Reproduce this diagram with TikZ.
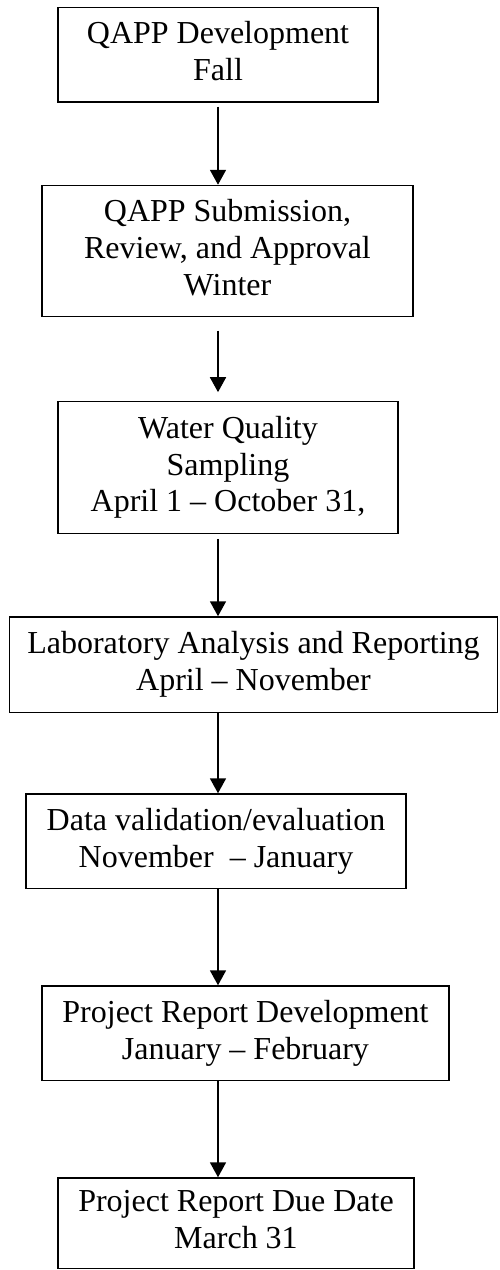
\documentclass[tikz,border=0pt]{standalone}
\usepackage{fontspec}
\setmainfont{Liberation Serif}
\usetikzlibrary{arrows.meta}

\tikzset{
    stage/.style={draw=black, line width=0.6pt, align=center, inner sep=0pt,
        font=\fontsize{12}{13.8}\selectfont,
        execute at begin node=\rule{0pt}{10.6pt},
        execute at end node=\rule[-2.7pt]{0pt}{2.7pt}},
    flow/.style={draw=black, line width=0.6pt, -{Triangle[width=6pt, length=5.6pt]}}
}

\begin{document}
\begin{tikzpicture}[x=0.375pt, y=-0.375pt]
    % Page frame
    \useasboundingbox (0, 0) rectangle (499, 1270);
    % Line that the arrows run along
    \coordinate (spine) at (218, 0);

    % Stages
    \node[stage, minimum width=120pt, minimum height=35.4pt] (qappdev) at (218, 54.75)
        {QAPP Development\\Fall};
    \node[stage, minimum width=139.1pt, minimum height=49.1pt] (qappsub) at (227.5, 251)
        {QAPP Submission,\\Review, and Approval\\Winter};
    \node[stage, minimum width=127.5pt, minimum height=49.5pt] (sampling) at (228, 467.5)
        {Water Quality\\Sampling\\April 1 – October 31,};
    \node[stage, minimum width=183pt, minimum height=35.8pt] (labwork) at (253.5, 664.75)
        {Laboratory Analysis and Reporting\\April – November};
    \node[stage, minimum width=142.5pt, minimum height=35.4pt] (validation) at (216, 841.25)
        {Data validation/evaluation\\November~ – January};
    \node[stage, minimum width=152.6pt, minimum height=35.4pt] (reportdev) at (245.5, 1033.25)
        {Project Report Development\\January – February};
    \node[stage, minimum width=133.5pt, minimum height=33.9pt] (reportdue) at (236, 1223.25)
        {Project Report Due Date\\March 31};

    % Arrows
    \draw[flow, shorten <=1.5pt] (qappdev.south -| spine) -- (qappsub.north -| spine);
    \draw[flow, shorten <=5pt, shorten >=3.2pt] (qappsub.south -| spine) -- (sampling.north -| spine);
    \draw[flow, shorten <=1.7pt] (sampling.south -| spine) -- (labwork.north -| spine);
    \draw[flow] (labwork.south -| spine) -- (validation.north -| spine);
    \draw[flow] (validation.south -| spine) -- (reportdev.north -| spine);
    \draw[flow] (reportdev.south -| spine) -- (reportdue.north -| spine);
\end{tikzpicture}
\end{document}
